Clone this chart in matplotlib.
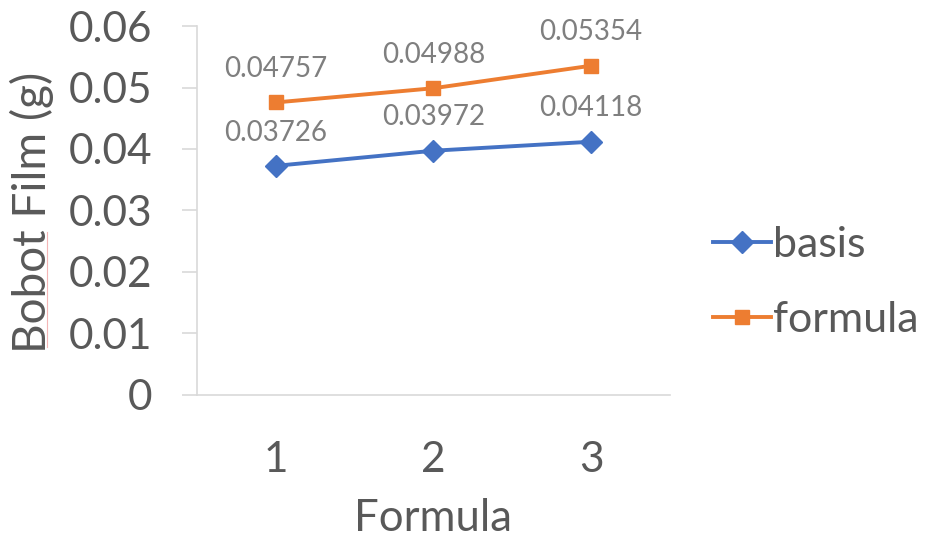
import matplotlib.pyplot as plt
from matplotlib.lines import Line2D

plt.rcParams['font.family'] = ['Lato', 'DejaVu Sans']

formulas = [1, 2, 3]
basis = [0.03726, 0.03972, 0.04118]
formula = [0.04757, 0.04988, 0.05354]
y_ticks = [0, 0.01, 0.02, 0.03, 0.04, 0.05, 0.06]

BLUE = '#4472C4'
ORANGE = '#ED7D31'
TEXT = '#595959'
LABEL = '#7F7F7F'
AXIS = '#D9D9D9'

fig = plt.figure(figsize=(9.29, 5.43), dpi=100)
ax = fig.add_axes([0.212, 0.2726, 0.509, 0.6795])

ax.plot(formulas, basis, color=BLUE, lw=2.8, marker='D', ms=11, label='basis')
ax.plot(formulas, formula, color=ORANGE, lw=2.8, marker='s', ms=10.5, label='formula')

for xs, ys in ((formulas, basis), (formulas, formula)):
    for x, y in zip(xs, ys):
        ax.annotate(f'{y:.5f}', (x, y), xytext=(0, 24), textcoords='offset points',
                    ha='center', va='center', fontsize=20, color=LABEL)

ax.set_xlim(0.5, 3.5)
ax.set_ylim(0, 0.06)
ax.set_xticks(formulas)
ax.set_xticklabels([str(f) for f in formulas])
ax.set_yticks(y_ticks)
ax.set_yticklabels([f'{t:g}' for t in y_ticks])

for side in ('top', 'right'):
    ax.spines[side].set_visible(False)
for side in ('left', 'bottom'):
    ax.spines[side].set_color(AXIS)
    ax.spines[side].set_linewidth(1.2)

ax.tick_params(axis='y', length=11, width=1.2, color=AXIS, pad=21,
               labelsize=30.5, labelcolor=TEXT)
ax.tick_params(axis='x', length=0, pad=33, labelsize=30.5, labelcolor=TEXT)

ax.set_xlabel('Formula', fontsize=31.5, color=TEXT, labelpad=14)

# y-axis title placed in figure coordinates
fig.text(0.034, 1 - 212 / 543, 'Bobot Film (g)', rotation=90, ha='center',
         va='center', fontsize=33, color=TEXT)

# spell-check underline under "Bobot"
fig.add_artist(Line2D([0.0506, 0.0506], [1 - 347 / 543, 1 - 232 / 543],
                      transform=fig.transFigure, color='#F4B6B6', lw=0.8))

handles = [Line2D([], [], color=BLUE, lw=2.8, marker='D', ms=11),
           Line2D([], [], color=ORANGE, lw=2.8, marker='s', ms=10.5)]
fig.legend(handles, ['basis', 'formula'], loc='center left',
           bbox_to_anchor=(0.767, 0.48), frameon=False, fontsize=31,
           labelcolor=TEXT, handlelength=1.35, handletextpad=0.05,
           labelspacing=0.85, borderpad=0, borderaxespad=0)

fig.savefig('out.png', dpi=100)
